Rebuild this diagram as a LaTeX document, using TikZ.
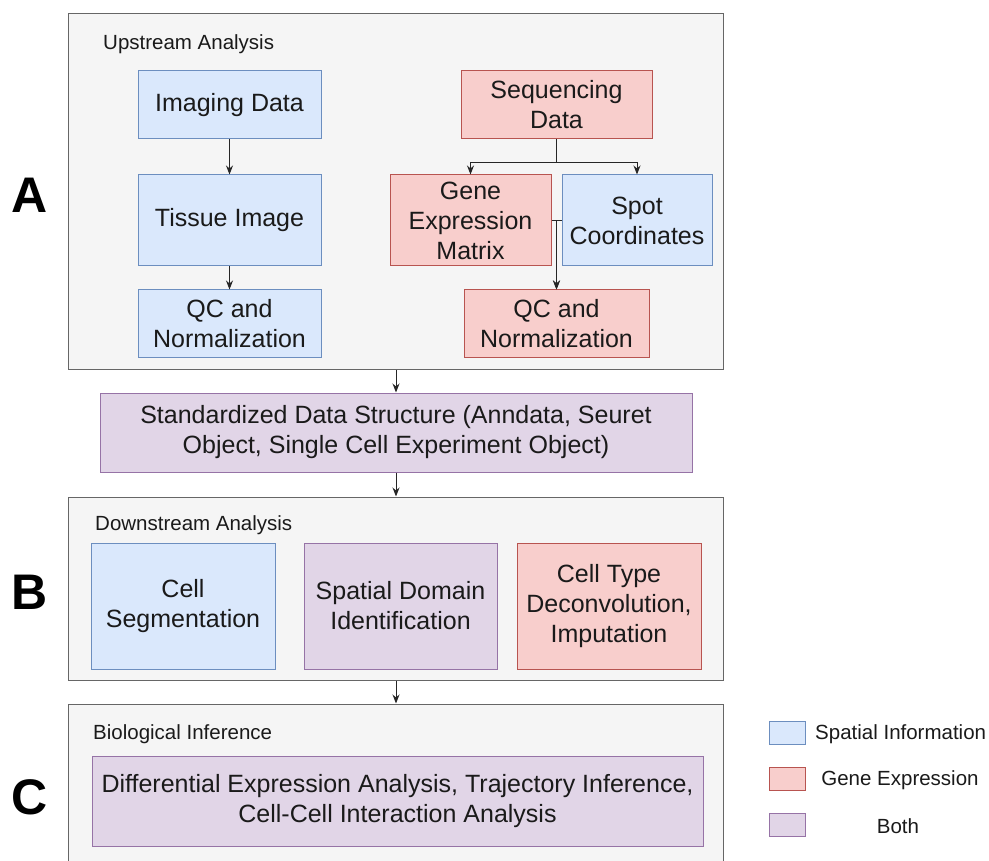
\documentclass[tikz,border=0pt]{standalone}
\usepackage{fontspec}
\setmainfont{Liberation Sans}
\usetikzlibrary{arrows.meta}
\definecolor{bfill}{HTML}{DAE8FC}\definecolor{bdraw}{HTML}{6C8EBF}
\definecolor{rfill}{HTML}{F8CECC}\definecolor{rdraw}{HTML}{B85450}
\definecolor{pfill}{HTML}{E1D5E7}\definecolor{pdraw}{HTML}{9673A6}
\definecolor{cfill}{HTML}{F5F5F5}\definecolor{cdraw}{HTML}{666666}
\definecolor{txt}{HTML}{1A1A1A}
\tikzset{
  base/.style={inner sep=0pt, line width=1pt, align=center, text=txt, font=\fontsize{25}{30}\selectfont},
  bbox/.style={base, fill=bfill, draw=bdraw},
  rbox/.style={base, fill=rfill, draw=rdraw},
  pbox/.style={base, fill=pfill, draw=pdraw},
  cont/.style={fill=cfill, draw=cdraw, line width=1pt},
  lab/.style={anchor=west, inner sep=0pt, text=txt, font=\fontsize{20.5}{24}\selectfont},
  big/.style={inner sep=0pt, text=black, font=\fontsize{50}{60}\selectfont\bfseries},
  arr/.style={-{Stealth[length=9pt,width=7pt]}, line width=1pt, draw=black!85},
}
\begin{document}
\begin{tikzpicture}[x=1pt,y=-1pt]
\useasboundingbox (0,0) rectangle (989,861);
% containers
\node[cont, minimum width=655pt, minimum height=356pt, inner sep=0pt] (cA) at (395.5,192) {};
\node[cont, minimum width=655pt, minimum height=183pt, inner sep=0pt] (cB) at (395.5,588.5) {};
\node[cont, minimum width=655pt, minimum height=180pt, inner sep=0pt] (cC) at (395.5,794) {};
\node[lab] (lA) at (103,44) {Upstream Analysis};
\node[lab] (lB) at (95,525) {Downstream Analysis};
\node[lab] (lC) at (93,734) {Biological Inference};
% big letters
\node[big] (A) at (30,195) {A};
\node[big] (B) at (30,592) {B};
\node[big] (C) at (30,797) {C};
% section A boxes
\node[bbox, minimum width=183pt, minimum height=68pt] (img) at (229.5,105) {Imaging Data};
\node[bbox, minimum width=183pt, minimum height=91pt] (tis) at (229.5,220.5) {Tissue Image};
\node[bbox, minimum width=183pt, minimum height=68pt] (qcb) at (229.5,324) {QC and\\Normalization};
\node[rbox, minimum width=191pt, minimum height=68pt] (seq) at (556.5,105) {Sequencing\\Data};
\node[rbox, minimum width=161pt, minimum height=91pt] (gem) at (470.5,220.5) {Gene\\Expression\\Matrix};
\node[bbox, minimum width=150pt, minimum height=91pt] (spot) at (637,220.5) {Spot\\Coordinates};
\node[rbox, minimum width=185pt, minimum height=68pt] (qcr) at (556.5,324) {QC and\\Normalization};
\coordinate (split) at (556.5,163);
\draw[arr] (img) -- (tis);
\draw[arr] (tis) -- (qcb);
\draw[line width=1pt, draw=black!85] (seq.south) -- (split);
\draw[arr] (split) -| (gem.north);
\draw[arr] (split) -| (spot.north);
\draw[arr] (gem.east) -| (qcr.north);
\draw[arr] (spot.west) -| (qcr.north);
% standardized
\node[pbox, minimum width=592pt, minimum height=79pt] (std) at (396,432.5) {Standardized Data Structure (Anndata, Seuret\\Object, Single Cell Experiment Object)};
\draw[arr] (std.north |- cA.south) -- (std.north);
\draw[arr] (std.south) -- (std.south |- cB.north);
% section B
\node[bbox, minimum width=184pt, minimum height=126pt] (seg) at (183,606) {Cell\\Segmentation};
\node[pbox, minimum width=193pt, minimum height=126pt] (dom) at (400.5,606) {Spatial Domain\\Identification};
\node[rbox, minimum width=184pt, minimum height=126pt] (dec) at (609,606) {Cell Type\\Deconvolution,\\Imputation};
\draw[arr] (std.south |- cB.south) -- (std.south |- cC.north);
% section C
\node[pbox, minimum width=611pt, minimum height=90pt] (dif) at (397.5,801) {Differential Expression Analysis, Trajectory Inference,\\Cell-Cell Interaction Analysis};
% legend
\node[bbox, minimum width=36pt, minimum height=23pt] (k1) at (787,732.5) {};
\node[rbox, minimum width=36pt, minimum height=23pt] (k2) at (787,778.5) {};
\node[pbox, minimum width=36pt, minimum height=23pt] (k3) at (787,824.5) {};
\node[lab] (t1) at (815,734) {Spatial Information};
\node[lab, anchor=center] (t2) at (900,780) {Gene Expression};
\node[lab, anchor=center] (t3) at (898,826) {Both};
\end{tikzpicture}
\end{document}
